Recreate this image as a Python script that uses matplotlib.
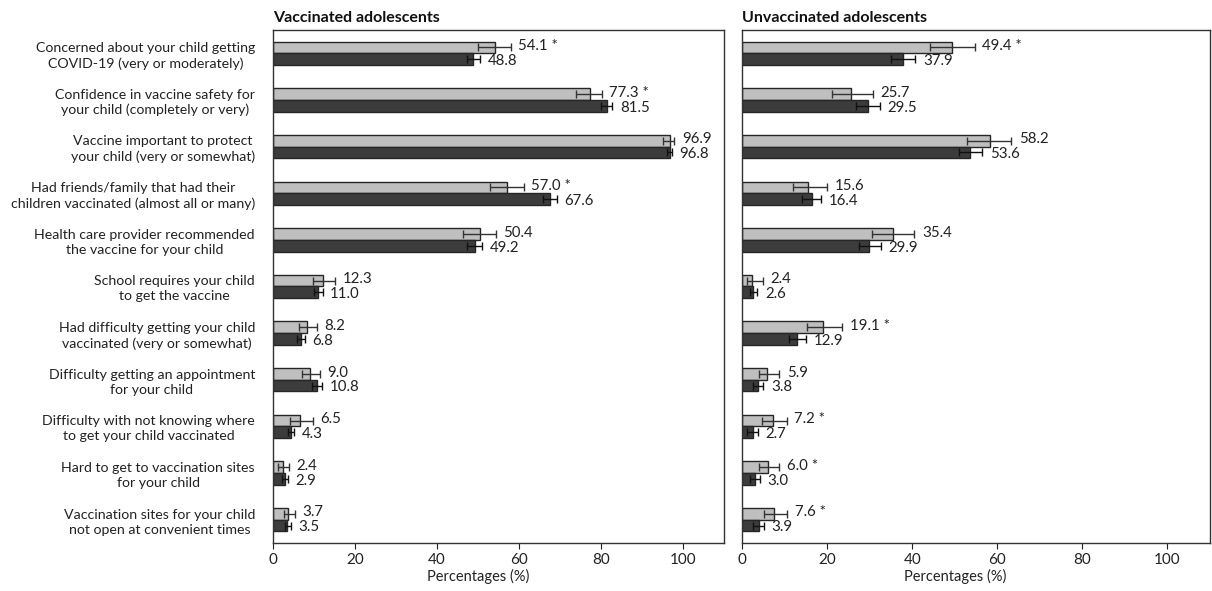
import matplotlib
matplotlib.use("Agg")
import matplotlib.pyplot as plt
import numpy as np

plt.rcParams['font.family'] = ['Lato', 'DejaVu Sans']

categories = [
    "Concerned about your child getting\nCOVID-19 (very or moderately)",
    "Confidence in vaccine safety for\nyour child (completely or very)",
    "Vaccine important to protect\nyour child (very or somewhat)",
    "Had friends/family that had their\nchildren vaccinated (almost all or many)",
    "Health care provider recommended\nthe vaccine for your child",
    "School requires your child\nto get the vaccine",
    "Had difficulty getting your child\nvaccinated (very or somewhat)",
    "Difficulty getting an appointment\nfor your child",
    "Difficulty with not knowing where\nto get your child vaccinated",
    "Hard to get to vaccination sites\nfor your child",
    "Vaccination sites for your child\nnot open at convenient times",
]

# Vaccinated adolescents: light = first period, dark = second period
vax_light = [54.1, 77.3, 96.9, 57.0, 50.4, 12.3, 8.2, 9.0, 6.5, 2.4, 3.7]
vax_light_lo = [50.1, 73.8, 95.2, 52.9, 46.3, 9.8, 6.3, 7.1, 4.1, 1.3, 2.7]
vax_light_hi = [58.0, 80.2, 97.9, 61.1, 54.4, 15.2, 10.8, 11.5, 9.8, 4.0, 5.4]
vax_light_sig = [True, True, False, True, False, False, False, False, False, False, False]
vax_dark = [48.8, 81.5, 96.8, 67.6, 49.2, 11.0, 6.8, 10.8, 4.3, 2.9, 3.5]
vax_dark_lo = [47.2, 79.9, 96.2, 65.8, 47.4, 10.0, 5.8, 9.6, 3.7, 2.1, 2.9]
vax_dark_hi = [50.5, 82.8, 97.3, 69.3, 51.0, 12.1, 7.8, 12.0, 5.2, 3.6, 4.3]

# Unvaccinated adolescents
unvax_light = [49.4, 25.7, 58.2, 15.6, 35.4, 2.4, 19.1, 5.9, 7.2, 6.0, 7.6]
unvax_light_lo = [44.2, 21.2, 52.9, 12.1, 30.5, 1.1, 15.3, 3.9, 4.8, 4.1, 5.2]
unvax_light_hi = [54.7, 30.8, 63.3, 19.9, 40.5, 4.9, 23.6, 8.8, 10.5, 8.8, 10.6]
unvax_light_sig = [True, False, False, False, False, False, True, False, True, True, True]
unvax_dark = [37.9, 29.5, 53.6, 16.4, 29.9, 2.6, 12.9, 3.8, 2.7, 3.0, 3.9]
unvax_dark_lo = [35.1, 26.9, 50.9, 14.2, 27.4, 1.9, 11.0, 2.7, 1.1, 1.9, 2.7]
unvax_dark_hi = [40.7, 32.4, 56.5, 18.5, 32.6, 3.6, 15.0, 5.0, 3.7, 4.2, 5.2]

light_color = '#bfbfbf'
dark_color = '#3c3c3c'
edge_color = '#262626'


def draw_panel(ax, title, light, llo, lhi, lsig, dark, dlo, dhi, show_labels):
    y = np.arange(len(categories))
    h = 0.25
    light = np.array(light)
    dark = np.array(dark)
    lerr = [light - np.array(llo), np.array(lhi) - light]
    derr = [dark - np.array(dlo), np.array(dhi) - dark]

    ax.barh(y - h / 2, light, height=h, color=light_color, edgecolor=edge_color, linewidth=1.0)
    ax.barh(y + h / 2, dark, height=h, color=dark_color, edgecolor=edge_color, linewidth=1.0)
    ax.errorbar(light, y - h / 2, xerr=lerr, fmt='none', ecolor='#333333',
                elinewidth=1.0, capsize=3, capthick=1.0)
    ax.errorbar(dark, y + h / 2, xerr=derr, fmt='none', ecolor='#111111',
                elinewidth=1.0, capsize=3, capthick=1.0)

    # value labels to the right of the error bars
    for i in range(len(y)):
        txt = f"{light[i]:.1f}" + (" *" if lsig[i] else "")
        ax.text(lhi[i] + 1.8, y[i] - h / 2 - 0.03, txt, va='center', ha='left',
                fontsize=10.8, color='#222222')
        ax.text(dhi[i] + 1.8, y[i] + h / 2 + 0.04, f"{dark[i]:.1f}", va='center', ha='left',
                fontsize=10.8, color='#222222')

    ax.set_xlim(0, 110)
    ax.set_ylim(len(categories) - 0.5, -0.5)
    ax.set_xticks([0, 20, 40, 60, 80, 100])
    ax.tick_params(axis='x', labelsize=11, colors='#222222', length=4, direction='out')
    ax.set_xlabel('Percentages (%)', fontsize=10.5, color='#222222', labelpad=1)
    ax.xaxis.label.set_x(50 / 110)
    ax.set_title(title, loc='left', fontsize=11.5, fontweight='bold', pad=6, color='#111111')

    ax.set_yticks(y)
    if show_labels:
        ax.set_yticklabels(categories, fontsize=10.2, color='#222222', linespacing=1.3)
        for t in ax.get_yticklabels():
            t.set_multialignment('center')
        ax.tick_params(axis='y', length=0, pad=13)
    else:
        ax.set_yticklabels([])
        ax.tick_params(axis='y', length=0)

    for s in ax.spines.values():
        s.set_color('#333333')
        s.set_linewidth(1.0)


fig = plt.figure(figsize=(12.12, 5.91), dpi=100)
ax1 = fig.add_axes([273 / 1212, 1 - 543 / 591, 451 / 1212, 513 / 591])
ax2 = fig.add_axes([742 / 1212, 1 - 543 / 591, 468 / 1212, 513 / 591])

draw_panel(ax1, 'Vaccinated adolescents', vax_light, vax_light_lo, vax_light_hi, vax_light_sig,
           vax_dark, vax_dark_lo, vax_dark_hi, True)
draw_panel(ax2, 'Unvaccinated adolescents', unvax_light, unvax_light_lo, unvax_light_hi,
           unvax_light_sig, unvax_dark, unvax_dark_lo, unvax_dark_hi, False)

fig.savefig('out.png', dpi=100)
